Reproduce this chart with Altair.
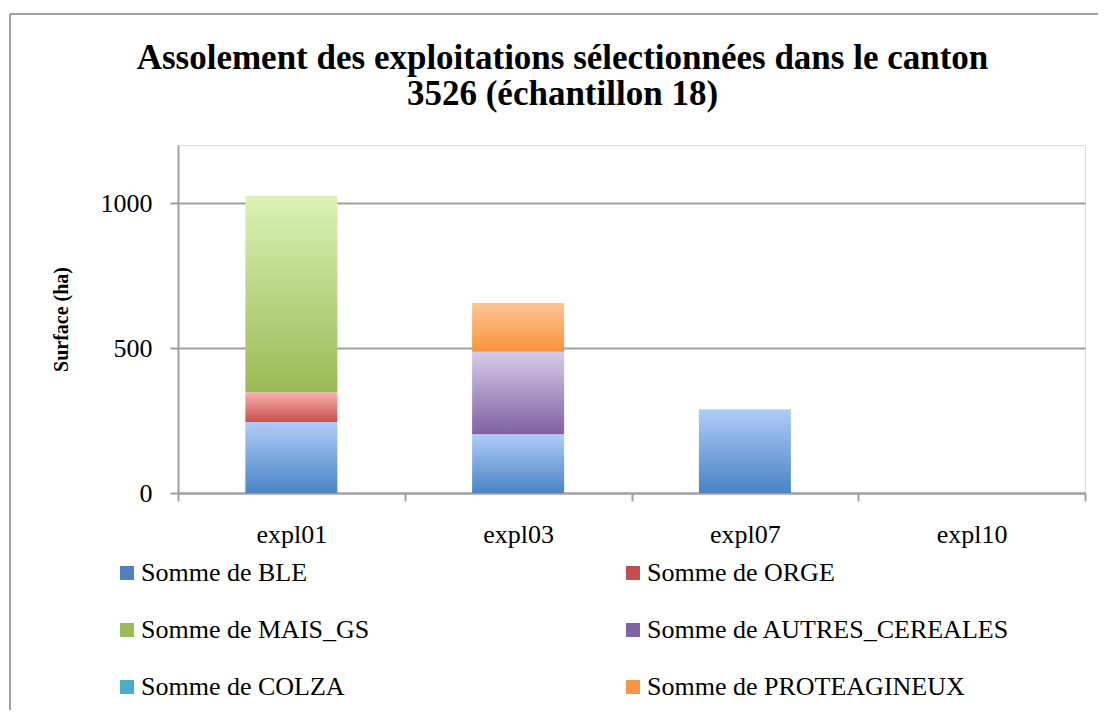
import altair as alt
import pandas as pd

categories = ["expl01", "expl03", "expl07", "expl10"]
series = [
    "Somme de BLE",
    "Somme de ORGE",
    "Somme de MAIS_GS",
    "Somme de AUTRES_CEREALES",
    "Somme de COLZA",
    "Somme de PROTEAGINEUX",
]
BLE = [245, 203, 289, 0]
ORGE = [102, 0, 0, 0]
MAIS_GS = [678, 0, 0, 0]
AUTRES_CEREALES = [0, 284, 0, 0]
COLZA = [0, 0, 0, 0]
PROTEAGINEUX = [0, 168, 0, 0]

y_ticks = [0, 500, 1000]

values = [BLE, ORGE, MAIS_GS, AUTRES_CEREALES, COLZA, PROTEAGINEUX]
base_colors = ["#4f81bd", "#c0504d", "#9bbb59", "#8064a2", "#4bacc6", "#f79646"]
top_colors = ["#b0cdf8", "#f7b0ad", "#dbf2b5", "#d7cbea", "#a5e6f8", "#fdc795"]
bottom_colors = ["#4a83c4", "#c8504c", "#9aba56", "#8062a2", "#47a9c4", "#f7933a"]

rows = []
for si, (s, vals) in enumerate(zip(series, values)):
    for c, v in zip(categories, vals):
        rows.append({"expl": c, "serie": s, "ordre": si, "surface": v})
df = pd.DataFrame(rows)

FONT = "Liberation Serif"
GRAY = "#a0a0a0"

x_enc = alt.X(
    "expl:N",
    sort=categories,
    scale=alt.Scale(paddingInner=0, paddingOuter=0),
    axis=alt.Axis(
        title=None,
        labelAngle=0,
        tickBand="extent",
        tickSize=8,
        tickWidth=2,
        tickColor=GRAY,
        domainColor=GRAY,
        domainWidth=2,
        labelFont=FONT,
        labelFontSize=26,
        labelColor="black",
        labelPadding=20,
        grid=False,
    ),
)
y_scale = alt.Scale(domain=[0, 1200], nice=False)
y_axis = alt.Axis(
    values=y_ticks,
    format="d",
    title="Surface (ha)",
    titleFont=FONT,
    titleFontSize=20,
    titleFontWeight="bold",
    titleColor="black",
    titlePadding=29,
    labelFont=FONT,
    labelFontSize=26,
    labelColor="black",
    labelPadding=18,
    tickSize=8,
    tickWidth=2,
    tickColor=GRAY,
    domainColor=GRAY,
    domainWidth=2,
    grid=True,
    gridColor=GRAY,
    gridWidth=2,
)

base = alt.Chart(df).transform_stack(
    stack="surface",
    groupby=["expl"],
    as_=["y0", "y1"],
    sort=[alt.SortField("ordre", order="ascending")],
)

layers = []
# invisible layer carrying axes and legend
legend_layer = base.mark_square(opacity=0).encode(
    x=x_enc,
    y=alt.Y("y1:Q", scale=y_scale, axis=y_axis),
    color=alt.Color(
        "serie:N",
        sort=series,
        scale=alt.Scale(domain=series, range=base_colors),
        legend=alt.Legend(
            orient="none",
            direction="horizontal",
            legendX=-64,
            legendY=415,
            columns=2,
            title=None,
            symbolType="square",
            symbolSize=196,
            symbolOpacity=1,
            symbolStrokeWidth=0,
            labelFont=FONT,
            labelFontSize=26,
            labelColor="black",
            labelOffset=1,
            labelLimit=600,
            columnPadding=250,
            rowPadding=31,
            padding=0,
        ),
    ),
)
layers.append(legend_layer)

for s, tc, bc in zip(series, top_colors, bottom_colors):
    grad = alt.LinearGradient(
        gradient="linear",
        x1=0, y1=0, x2=0, y2=1,
        stops=[alt.GradientStop(color=tc, offset=0), alt.GradientStop(color=bc, offset=1)],
    )
    layer = (
        base.transform_filter((alt.datum.serie == s) & (alt.datum.surface > 0))
        .mark_bar(size=92, fill=grad, stroke=None)
        .encode(x=x_enc, y=alt.Y("y1:Q", scale=y_scale, axis=y_axis), y2="y0:Q")
    )
    layers.append(layer)

# chart frame (decoration)
frame_left = alt.Chart(df).mark_rule(color=GRAY, strokeWidth=2).encode(
    x=alt.value(-168), y=alt.value(-131), y2=alt.value(565)
)
frame_top = alt.Chart(df).mark_rule(color=GRAY, strokeWidth=2).encode(
    x=alt.value(-168), x2=alt.value(920), y=alt.value(-131)
)
layers.extend([frame_left, frame_top])

chart = (
    alt.layer(*layers)
    .properties(
        width=907,
        height=348,
        padding={"left": 1, "top": 5, "right": 0, "bottom": 0},
        title=alt.Title(
            ["Assolement des exploitations sélectionnées dans le canton", "3526 (échantillon 18)"],
            font=FONT,
            fontSize=35,
            fontWeight="bold",
            color="black",
            anchor="middle",
            frame="group",
            dx=-69,
            offset=-99,
            lineHeight=36,
        ),
    )
    .configure_view(stroke=None)
    .configure(font=FONT)
)

chart.save("out.html", embed_options={"renderer": "svg", "actions": False})
